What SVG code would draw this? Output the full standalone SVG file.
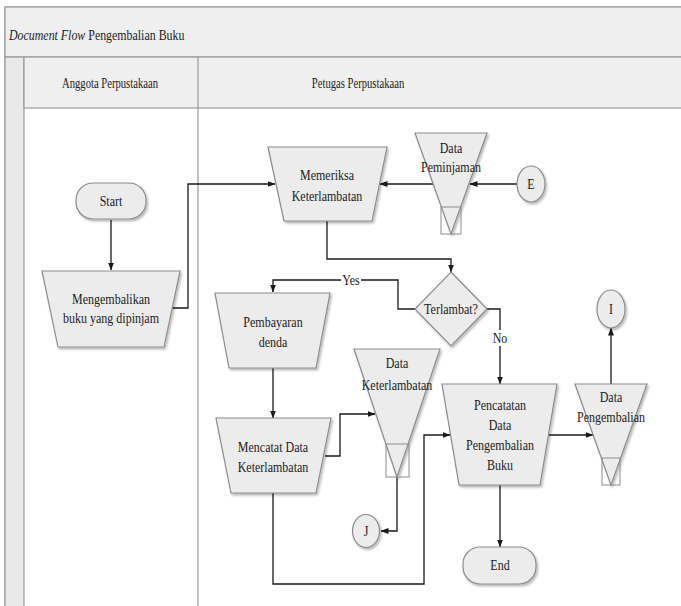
<svg xmlns="http://www.w3.org/2000/svg" width="681" height="606" viewBox="0 0 681 606" font-family="'Liberation Serif', 'Times New Roman', serif">
  <defs>
    <marker id="arrow" markerWidth="8" markerHeight="6" refX="7.5" refY="3" orient="auto" markerUnits="userSpaceOnUse">
      <path d="M0,0 L8,3 L0,6 Z" fill="#1a1a1a"/>
    </marker>
    <filter id="shadow" x="-20%" y="-20%" width="150%" height="150%">
      <feDropShadow dx="1.5" dy="2" stdDeviation="1.2" flood-color="#000" flood-opacity="0.28"/>
    </filter>
  </defs>
  <style>
    text { fill: #222222; text-anchor: middle; }
    .t { font-size: 15px; }
    .h { font-size: 14px; }
    .shape { fill: #ececec; stroke: #8c8c8c; stroke-width: 1.2; filter: url(#shadow); }
    .box { fill: none; stroke: #8c8c8c; stroke-width: 1; }
    .frame { stroke: #9a9a9a; stroke-width: 1.2; }
    .link { fill: none; stroke: #1a1a1a; stroke-width: 1.3; }
    .arrowed { marker-end: url(#arrow); }
  </style>

  <!-- swimlane frame; labels use a narrow horizontal scale -->
  <g id="frame">
    <rect x="5" y="7" width="680" height="603" fill="#ffffff" class="frame"/>
    <rect x="5" y="7" width="680" height="50" fill="#efefef" class="frame"/>
    <rect x="5" y="57" width="19" height="553" fill="#e9e9e9" class="frame"/>
    <rect x="24" y="57" width="661" height="51" fill="#efefef" class="frame"/>
    <line x1="198" y1="57" x2="198" y2="610" class="frame"/>
    <text class="h" transform="translate(9,39.5) scale(0.85,1)" style="text-anchor:start"><tspan font-style="italic">Document Flow</tspan> Pengembalian Buku</text>
    <text class="h" transform="translate(110,88) scale(0.76,1)">Anggota Perpustakaan</text>
    <text class="h" transform="translate(358,88) scale(0.76,1)">Petugas Perpustakaan</text>
  </g>

  <!-- connectors -->
  <g id="connectors">
    <path class="link arrowed" d="M111,220 V270"/>
    <path class="link arrowed" d="M172,308 H188 V184 H275"/>
    <path class="link arrowed" d="M433,184 H380"/>
    <path class="link arrowed" d="M517,184 H470"/>
    <path class="link arrowed" d="M327,221 V259 H451 V272"/>
    <path class="link arrowed" d="M415,309 H398 V280 H273 V292"/>
    <path class="link arrowed" d="M487,309 H500 V384"/>
    <path class="link arrowed" d="M273,368 V418"/>
    <path class="link arrowed" d="M325,456 H340 V414 H375"/>
    <path class="link arrowed" d="M397,477 V531 H381"/>
    <path class="link arrowed" d="M273,493 V584 H424 V435 H450"/>
    <path class="link arrowed" d="M549,435 H593"/>
    <path class="link arrowed" d="M611,384 V328"/>
    <path class="link arrowed" d="M500,485 V547"/>
    <rect x="341" y="273" width="20" height="14" fill="#ffffff"/>
    <text class="t" transform="translate(351,285) scale(0.8,1)">Yes</text>
    <rect x="492" y="330" width="16" height="16" fill="#ffffff"/>
    <text class="t" transform="translate(500,343) scale(0.8,1)">No</text>
  </g>

  <g id="start">
    <rect class="shape" x="76" y="183" width="70" height="36" rx="17"/>
    <text class="t" transform="translate(111,206) scale(0.8,1)">Start</text>
  </g>

  <g id="mengembalikan">
    <polygon class="shape" points="42,271 180,271 164,347 58,347"/>
    <text class="t" transform="translate(111,304) scale(0.8,1)">Mengembalikan</text>
    <text class="t" transform="translate(111,323) scale(0.8,1)">buku yang dipinjam</text>
  </g>

  <g id="memeriksa">
    <polygon class="shape" points="268,147 387,147 372,221 284,221"/>
    <text class="t" transform="translate(327,180) scale(0.8,1)">Memeriksa</text>
    <text class="t" transform="translate(327,201) scale(0.8,1)">Keterlambatan</text>
  </g>

  <g id="data-peminjaman">
    <polygon class="shape" points="415,133 487,133 451,234"/>
    <rect class="box" x="441" y="207" width="20" height="27"/>
    <text class="t" transform="translate(451,153) scale(0.8,1)">Data</text>
    <text class="t" transform="translate(451,172) scale(0.8,1)">Peminjaman</text>
  </g>

  <g id="e">
    <ellipse class="shape" cx="531" cy="184" rx="14" ry="18"/>
    <text class="t" transform="translate(531,189) scale(0.8,1)">E</text>
  </g>

  <g id="terlambat">
    <polygon class="shape" points="451,272 487,309 451,346 415,309"/>
    <text class="t" transform="translate(451,314) scale(0.8,1)">Terlambat?</text>
  </g>

  <g id="pembayaran">
    <polygon class="shape" points="215,293 330,293 316,368 229,368"/>
    <text class="t" transform="translate(273,327) scale(0.8,1)">Pembayaran</text>
    <text class="t" transform="translate(273,347) scale(0.8,1)">denda</text>
  </g>

  <g id="mencatat">
    <polygon class="shape" points="216,418 331,418 316,493 231,493"/>
    <text class="t" transform="translate(273,452) scale(0.8,1)">Mencatat Data</text>
    <text class="t" transform="translate(273,472) scale(0.8,1)">Keterlambatan</text>
  </g>

  <g id="data-keterlambatan">
    <polygon class="shape" points="354,349 440,349 397,477"/>
    <rect class="box" x="386" y="444" width="23" height="33"/>
    <text class="t" transform="translate(397,368) scale(0.8,1)">Data</text>
    <text class="t" transform="translate(397,390) scale(0.8,1)">Keterlambatan</text>
  </g>

  <g id="j">
    <ellipse class="shape" cx="366" cy="531" rx="13.5" ry="16.5"/>
    <text class="t" transform="translate(366,536) scale(0.8,1)">J</text>
  </g>

  <g id="pencatatan">
    <polygon class="shape" points="442,384 557,384 540,485 459,485"/>
    <text class="t" transform="translate(500,410) scale(0.8,1)">Pencatatan</text>
    <text class="t" transform="translate(500,430) scale(0.8,1)">Data</text>
    <text class="t" transform="translate(500,450) scale(0.8,1)">Pengembalian</text>
    <text class="t" transform="translate(500,470) scale(0.8,1)">Buku</text>
  </g>

  <g id="data-pengembalian">
    <polygon class="shape" points="575,384 647,384 611,485"/>
    <rect class="box" x="602" y="458" width="18" height="27"/>
    <text class="t" transform="translate(611,402) scale(0.8,1)">Data</text>
    <text class="t" transform="translate(611,422) scale(0.8,1)">Pengembalian</text>
  </g>

  <g id="i">
    <ellipse class="shape" cx="611" cy="309" rx="14" ry="19"/>
    <text class="t" transform="translate(611,314) scale(0.8,1)">I</text>
  </g>

  <g id="end">
    <rect class="shape" x="463" y="547" width="73" height="37" rx="17"/>
    <text class="t" transform="translate(500,570) scale(0.8,1)">End</text>
  </g>
</svg>
